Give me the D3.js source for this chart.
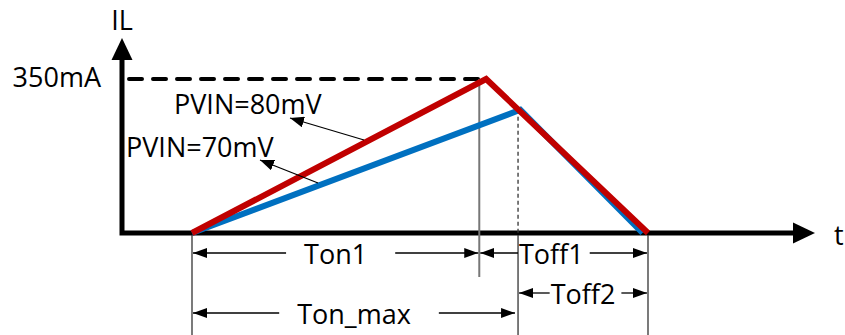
<!DOCTYPE html>
<html>
<head>
<meta charset="utf-8">
<script src="https://cdn.jsdelivr.net/npm/d3@7"></script>
<style>
  body { margin: 0; background: #fff; }
  text { font-family: "Open Sans", "Noto Sans", sans-serif; fill: #000; }
</style>
</head>
<body>
<div class="chart"></div>
<script>
// inductor current waveform, time in us, current in mA
const redT = [0, 6.45, 10];
const redI = [0, 350, 0];
const blueT = [0, 7.2, 9.88];
const blueI = [0, 280, 0];

// time markers
const ton1End = 6.3;
const tonMaxEnd = 7.15;
const toffEnd = 10;

// dimension arrows below the axis
const dimLabels = ["Ton1", "Toff1", "Toff2", "Ton_max"];
const dimStart = [0, ton1End, tonMaxEnd, 0];
const dimEnd = [ton1End, toffEnd, toffEnd, tonMaxEnd];

const peakLabel = "350mA";
const seriesLabels = ["PVIN=80mV", "PVIN=70mV"];

let width = 845;
let height = 335;
let fontSize = "27px";

let x = d3.scaleLinear().domain([0, 10]).range([192, 648]);
let y = d3.scaleLinear().domain([0, 350]).range([233, 79]);

let graph = d3
  .select(".chart")
  .append("svg")
  .attr("width", width)
  .attr("height", height);

let defs = graph.append("defs");
function marker(id, w, h) {
  defs
    .append("marker")
    .attr("id", id)
    .attr("viewBox", `0 0 ${w} ${h}`)
    .attr("refX", w)
    .attr("refY", h / 2)
    .attr("markerWidth", w)
    .attr("markerHeight", h)
    .attr("markerUnits", "userSpaceOnUse")
    .attr("orient", "auto-start-reverse")
    .append("path")
    .attr("d", `M0,0L${w},${h / 2}L0,${h}Z`)
    .attr("fill", "#000");
}
marker("dimArrow", 14, 10);
marker("noteArrow", 14, 11);

let x0 = x.invert(122);
let xTip = x.invert(815);
let yTop = 443;

// axes
let axes = graph.append("g").attr("id", "axes");
axes
  .append("path")
  .attr("d", `M${x(x0)},${y(yTop) + 20}V${y(0)}H${x(xTip) - 20}`)
  .attr("fill", "none")
  .attr("stroke", "#000")
  .attr("stroke-width", 5);
axes
  .append("path")
  .attr("d", `M${x(x0)},${y(yTop)}l-10.5,22h21Z`)
  .attr("fill", "#000");
axes
  .append("path")
  .attr("d", `M${x(xTip)},${y(0)}l-22,-10.5v21Z`)
  .attr("fill", "#000");
axes
  .append("text")
  .attr("x", x(x0))
  .attr("y", 30)
  .attr("text-anchor", "middle")
  .style("font-size", fontSize)
  .text("IL");
axes
  .append("text")
  .attr("x", x(xTip) + 19)
  .attr("y", 245)
  .style("font-size", fontSize)
  .text("t");

// 350mA reference
graph
  .append("line")
  .attr("x1", x(x0) + 7)
  .attr("x2", x(redT[1]) - 2)
  .attr("y1", y(350))
  .attr("y2", y(350))
  .attr("stroke", "#000")
  .attr("stroke-width", 4)
  .attr("stroke-linecap", "round")
  .attr("stroke-dasharray", "13,11");
graph
  .append("text")
  .attr("x", 101)
  .attr("y", 87)
  .attr("text-anchor", "end")
  .style("font-size", fontSize)
  .text(peakLabel);

// guide lines
let guides = graph.append("g").attr("id", "guides");
guides
  .append("line")
  .attr("x1", x(ton1End)).attr("x2", x(ton1End))
  .attr("y1", y(350)).attr("y2", 277)
  .attr("stroke", "#777").attr("stroke-width", 2);
guides
  .append("line")
  .attr("x1", x(tonMaxEnd)).attr("x2", x(tonMaxEnd))
  .attr("y1", y(blueI[1])).attr("y2", y(0))
  .attr("stroke", "#333").attr("stroke-width", 1.3)
  .attr("stroke-dasharray", "4,3");
[0, tonMaxEnd, toffEnd].forEach(t => {
  guides
    .append("line")
    .attr("x1", x(t)).attr("x2", x(t))
    .attr("y1", y(0) + 2).attr("y2", height)
    .attr("stroke", "#333").attr("stroke-width", 1.3);
});

// current waveforms
let line = d3.line().x(d => x(d[0])).y(d => y(d[1]));
graph
  .append("path")
  .datum(blueT.map((t, i) => [t, blueI[i]]))
  .attr("d", line)
  .attr("fill", "none")
  .attr("stroke", "#0070C0")
  .attr("stroke-width", 6);
graph
  .append("path")
  .datum(redT.map((t, i) => [t, redI[i]]))
  .attr("d", line)
  .attr("fill", "none")
  .attr("stroke", "#C00000")
  .attr("stroke-width", 6);

// series labels with pointer arrows
let notes = graph.append("g").attr("id", "notes");
notes.append("text").attr("x", 174).attr("y", 114).style("font-size", fontSize).text(seriesLabels[0]);
notes.append("text").attr("x", 126).attr("y", 157).style("font-size", fontSize).text(seriesLabels[1]);
notes
  .append("line")
  .attr("x1", 364).attr("y1", 140).attr("x2", 290).attr("y2", 118)
  .attr("stroke", "#000").attr("stroke-width", 1.3)
  .attr("marker-end", "url(#noteArrow)");
notes
  .append("line")
  .attr("x1", 318).attr("y1", 183).attr("x2", 260).attr("y2", 160)
  .attr("stroke", "#000").attr("stroke-width", 1.3)
  .attr("marker-end", "url(#noteArrow)");

// dimension arrows
let rowY = [253, 253, 293, 313];
let dims = graph.append("g").attr("id", "dims");
dimLabels.forEach((label, i) => {
  let a = x(dimStart[i]) + 1;
  let b = x(dimEnd[i]) - (i === 3 ? 3 : 1);
  let g = dims.append("g");
  let txt = g
    .append("text")
    .attr("x", (a + b) / 2)
    .attr("y", rowY[i] + 11)
    .attr("text-anchor", "middle")
    .style("font-size", fontSize)
    .text(label);
  if (i === 1) txt.attr("x", 519).attr("text-anchor", "start");
  let bb = txt.node().getBBox();
  let wide = i === 0 || i === 3;
  g.append("line")
    .attr("x1", bb.x - (wide ? 18 : 1)).attr("x2", a)
    .attr("y1", rowY[i]).attr("y2", rowY[i])
    .attr("stroke", "#000").attr("stroke-width", 1.3)
    .attr("marker-end", "url(#dimArrow)");
  g.append("line")
    .attr("x1", bb.x + bb.width + (wide ? 28 : 6)).attr("x2", b)
    .attr("y1", rowY[i]).attr("y2", rowY[i])
    .attr("stroke", "#000").attr("stroke-width", 1.3)
    .attr("marker-end", "url(#dimArrow)");
});
</script>
</body>
</html>
